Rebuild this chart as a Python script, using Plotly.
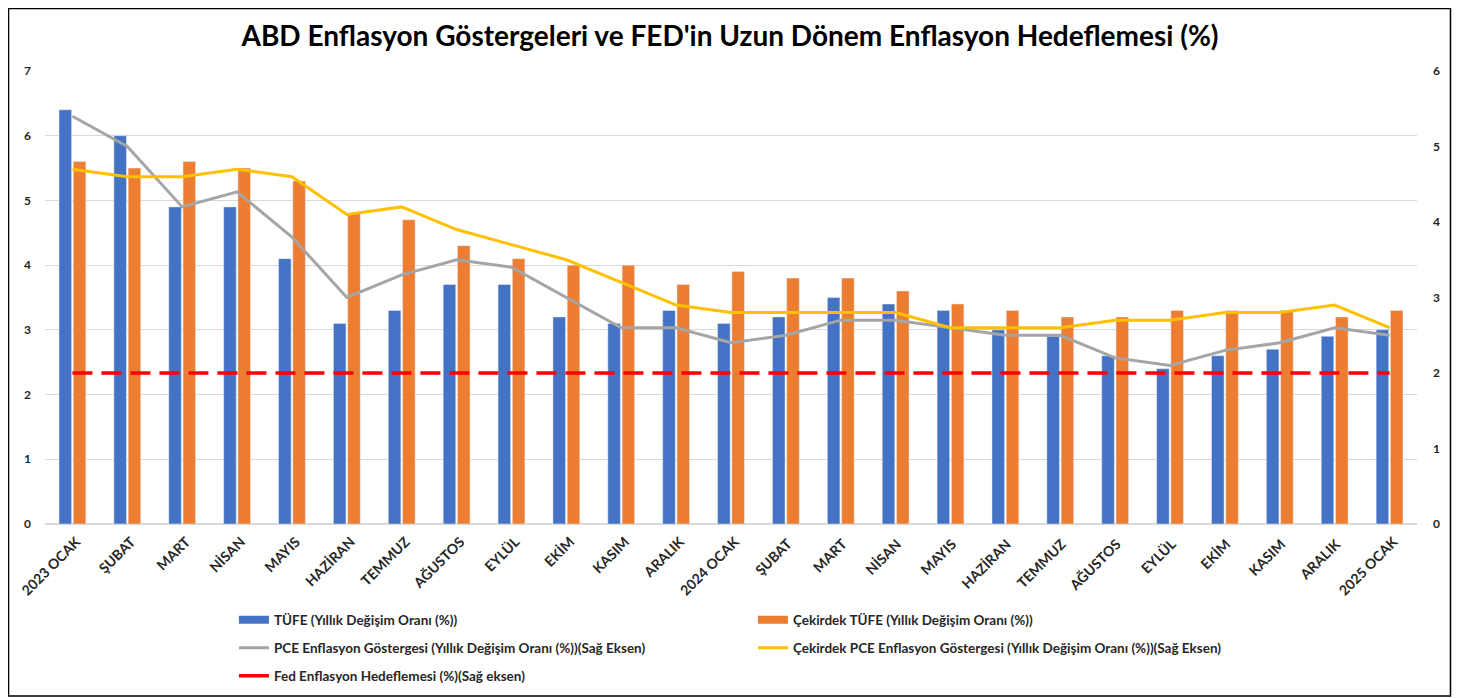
import plotly.graph_objects as go

categories = ["2023 OCAK", "ŞUBAT", "MART", "NİSAN", "MAYIS", "HAZİRAN", "TEMMUZ", "AĞUSTOS",
              "EYLÜL", "EKİM", "KASIM", "ARALIK", "2024 OCAK", "ŞUBAT ", "MART ", "NİSAN ",
              "MAYIS ", "HAZİRAN ", "TEMMUZ ", "AĞUSTOS ", "EYLÜL ", "EKİM ", "KASIM ", "ARALIK ",
              "2025 OCAK"]
tufe = [6.4, 6.0, 4.9, 4.9, 4.1, 3.1, 3.3, 3.7, 3.7, 3.2, 3.1, 3.3, 3.1, 3.2, 3.5, 3.4,
        3.3, 3.0, 2.9, 2.6, 2.4, 2.6, 2.7, 2.9, 3.0]
cekirdek_tufe = [5.6, 5.5, 5.6, 5.5, 5.3, 4.8, 4.7, 4.3, 4.1, 4.0, 4.0, 3.7, 3.9, 3.8, 3.8, 3.6,
                 3.4, 3.3, 3.2, 3.2, 3.3, 3.3, 3.3, 3.2, 3.3]
pce = [5.4, 5.0, 4.2, 4.4, 3.8, 3.0, 3.3, 3.5, 3.4, 3.0, 2.6, 2.6, 2.4, 2.5, 2.7, 2.7,
       2.6, 2.5, 2.5, 2.2, 2.1, 2.3, 2.4, 2.6, 2.5]
cekirdek_pce = [4.7, 4.6, 4.6, 4.7, 4.6, 4.1, 4.2, 3.9, 3.7, 3.5, 3.2, 2.9, 2.8, 2.8, 2.8, 2.8,
                2.6, 2.6, 2.6, 2.7, 2.7, 2.8, 2.8, 2.9, 2.6]
fed_hedef = [2.0] * 25

names = ["TÜFE (Yıllık Değişim Oranı (%))",
         "Çekirdek TÜFE (Yıllık Değişim Oranı (%))",
         "PCE Enflasyon Göstergesi (Yıllık Değişim Oranı (%))(Sağ Eksen)",
         "Çekirdek PCE Enflasyon Göstergesi (Yıllık Değişim Oranı (%))(Sağ Eksen)",
         "Fed Enflasyon Hedeflemesi (%)(Sağ eksen)"]

BLUE, ORANGE, GREY, GOLD, RED = "#4472C4", "#ED7D31", "#A5A5A5", "#FFC000", "#FF0000"
FONT = "Lato"
TXT = "#262626"

# page body margin offset (screen px = figure px + OFF)
OFF = 8
W, H = 1470 - OFF, 698 - OFF
L, T = 45 - OFF, 71 - OFF
B = H - (524 - OFF)
R = W - (1417.5 - OFF)
pw, ph = W - L - R, H - T - B


def px_x(p):
    return (p - OFF - L) / pw


def px_y(p):
    return (H - B - (p - OFF)) / ph


fig = go.Figure()
fig.add_trace(go.Bar(x=categories, y=tufe, name=names[0], marker_color=BLUE, yaxis="y",
                     showlegend=False))
fig.add_trace(go.Bar(x=categories, y=cekirdek_tufe, name=names[1], marker_color=ORANGE, yaxis="y",
                     showlegend=False))
fig.add_trace(go.Scatter(x=categories, y=pce, name=names[2], mode="lines",
                         line=dict(color=GREY, width=3), yaxis="y2", legend="legend2"))
fig.add_trace(go.Scatter(x=categories, y=cekirdek_pce, name=names[3], mode="lines",
                         line=dict(color=GOLD, width=3), yaxis="y2", legend="legend2"))
fig.add_trace(go.Scatter(x=categories, y=fed_hedef, name=names[4], mode="lines",
                         line=dict(color=RED, width=3.5, dash="20px,9px"), yaxis="y2",
                         showlegend=False))
# legend swatches (no data drawn)
fig.add_trace(go.Scatter(x=[categories[0]], y=[None], name=names[0], mode="lines",
                         line=dict(color=BLUE, width=8), legend="legend", hoverinfo="skip"))
fig.add_trace(go.Scatter(x=[categories[0]], y=[None], name=names[1], mode="lines",
                         line=dict(color=ORANGE, width=8), legend="legend", hoverinfo="skip"))
fig.add_trace(go.Scatter(x=[categories[0]], y=[None], name=names[4], mode="lines",
                         line=dict(color=RED, width=3.5), legend="legend3", hoverinfo="skip",
                         yaxis="y2"))

legfont = dict(size=13.5, family=FONT, color=TXT, weight="bold")
ENTRY = 474
leg_common = dict(orientation="h", xanchor="left", yanchor="middle", entrywidth=ENTRY,
                  entrywidthmode="pixels", font=legfont, bgcolor="rgba(0,0,0,0)",
                  traceorder="normal")

fig.update_layout(
    width=W, height=H,
    margin=dict(l=L, r=R, t=T, b=B, autoexpand=False),
    paper_bgcolor="white", plot_bgcolor="white",
    font=dict(family=FONT, color=TXT),
    title=dict(text="ABD Enflasyon Göstergeleri ve FED'in Uzun Dönem Enflasyon Hedeflemesi (%)",
               x=(730 - OFF) / W, xanchor="center", y=1 - (36 - OFF) / H, yanchor="middle",
               font=dict(size=28, color="#000000", family=FONT, weight="bold")),
    barmode="group", bargap=0.48, bargroupgap=0.12,
    xaxis=dict(type="category", tickangle=-45, showgrid=False, showline=False,
               tickfont=dict(size=14, family=FONT, color=TXT, weight="bold"),
               range=[-0.5, 24.5], ticks="", ticklabelstandoff=6, ticklabelshift=4),
    yaxis=dict(range=[0, 7], dtick=1, showgrid=True, gridcolor="#D9D9D9", gridwidth=1,
               zeroline=True, zerolinecolor="#D9D9D9",
               tickfont=dict(size=12, family=FONT, color=TXT, weight="bold"), ticks="",
               ticklabelstandoff=13),
    yaxis2=dict(range=[0, 6], dtick=1, overlaying="y", side="right", showgrid=False,
                zeroline=False,
                tickfont=dict(size=12, family=FONT, color=TXT, weight="bold"), ticks="",
                ticklabelstandoff=15),
    legend=dict(x=px_x(234), y=px_y(620), **leg_common),
    legend2=dict(x=px_x(234), y=px_y(648), **leg_common),
    legend3=dict(x=px_x(234), y=px_y(676), **leg_common),
    shapes=[dict(type="rect", xref="paper", yref="paper",
                 x0=px_x(OFF + 0.5), x1=px_x(1451), y0=px_y(696), y1=px_y(OFF + 0.5),
                 line=dict(color="black", width=1.5), fillcolor="rgba(0,0,0,0)", layer="below")],
)

fig.write_html("out.html")
